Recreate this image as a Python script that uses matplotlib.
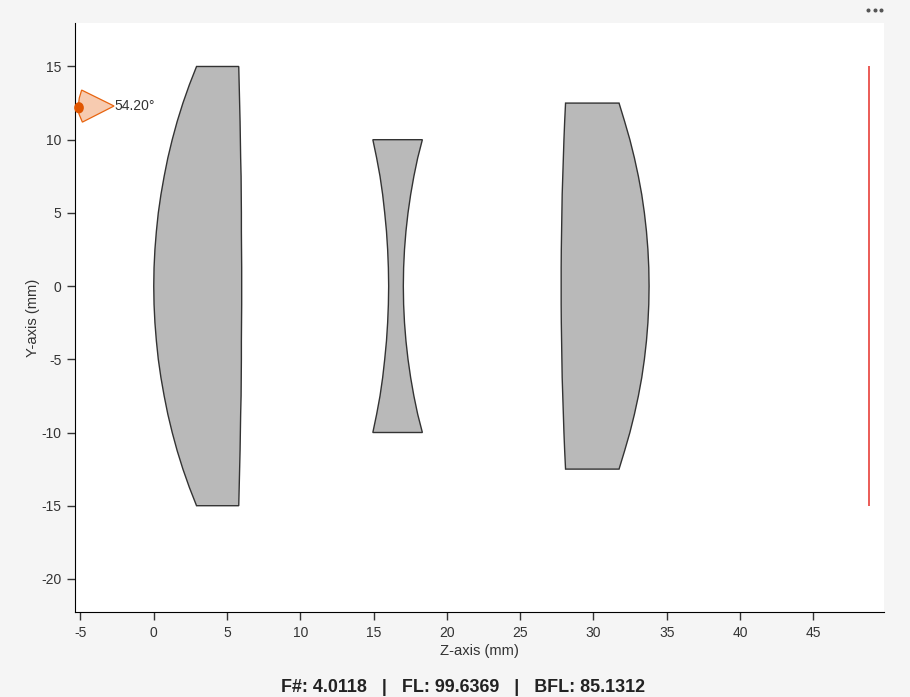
import numpy as np
import matplotlib
matplotlib.use('Agg')
import matplotlib.pyplot as plt
from matplotlib.lines import Line2D
from matplotlib.patches import Ellipse

plt.rcParams['font.family'] = ['Liberation Sans', 'DejaVu Sans']
plt.rcParams['axes.unicode_minus'] = False

# heights and surface positions for upper half of each lens (mm)
lens1_y = [0, 1.25, 2.5, 3.75, 5, 6.25, 7.5, 8.75, 10, 11.25, 12.5, 13.75, 15]
lens1_front = [0, 0.02, 0.08, 0.18, 0.31, 0.49, 0.71, 0.96, 1.26, 1.6, 1.99, 2.43, 2.92]
lens1_back = [6.0, 6.0, 5.99, 5.98, 5.98, 5.97, 5.96, 5.93, 5.91, 5.89, 5.86, 5.83, 5.8]

lens2_y = [0, 1.25, 2.5, 3.75, 5, 6.25, 7.5, 8.75, 10]
lens2_front = [16.03, 16.01, 15.96, 15.88, 15.76, 15.62, 15.44, 15.21, 14.95]
lens2_back = [17.03, 17.05, 17.11, 17.21, 17.35, 17.53, 17.75, 18.01, 18.33]

lens3_y = [0, 1.25, 2.5, 3.75, 5, 6.25, 7.5, 8.75, 10, 11.25, 12.5]
lens3_front = [27.8, 27.8, 27.81, 27.83, 27.85, 27.87, 27.91, 27.95, 27.99, 28.04, 28.1]
lens3_back = [33.8, 33.78, 33.72, 33.62, 33.48, 33.3, 33.07, 32.8, 32.49, 32.13, 31.75]

image_z = 48.8
image_y = [15, -15]

ray_z = [-4.92, -2.71, -4.87, -5.1, -5.15, -5.08]
ray_y = [13.39, 12.3, 11.2, 11.75, 12.3, 12.85]
source_z = -5.1
source_y = 12.18
angle_label = '54.20°'

xticks = [-5, 0, 5, 10, 15, 20, 25, 30, 35, 40, 45]
yticks = [-20, -15, -10, -5, 0, 5, 10, 15]
info = 'F#: 4.0118   |   FL: 99.6369   |   BFL: 85.1312'

W, H = 910, 697
fig = plt.figure(figsize=(W / 100, H / 100), dpi=100, facecolor='#f5f5f5')
ax = fig.add_axes([75.2 / W, 1 - 612.3 / H, (884 - 75.2) / W, (612.3 - 23) / H])
ax.set_xlim(-5.36, 49.83)
ax.set_ylim(-22.28, 17.97)


def draw_lens(y, front, back):
    y = np.array(y)
    front = np.array(front)
    back = np.array(back)
    # mirror the upper half about the axis
    ys = np.r_[y[::-1], -y[1:], -y[::-1], y[1:]]
    zs = np.r_[front[::-1], front[1:], back[::-1], back[1:]]
    ax.fill(zs, ys, facecolor='#b9b9b9', edgecolor='#333333', lw=1)


draw_lens(lens1_y, lens1_front, lens1_back)
draw_lens(lens2_y, lens2_front, lens2_back)
draw_lens(lens3_y, lens3_front, lens3_back)

ax.plot([image_z, image_z], image_y, color='#e8403a', lw=1.2, solid_capstyle='butt')

ax.fill(ray_z, ray_y, facecolor='#f7cbb0', edgecolor='#e8640f', lw=0.9, clip_on=False)
ax.add_patch(Ellipse((source_z, source_y), 0.66, 0.77, facecolor='#e05500', edgecolor='none', clip_on=False, zorder=5))
ax.text(-2.68, 12.3, angle_label, fontsize=10, color='#333333', va='center', ha='left')

ax.spines['top'].set_visible(False)
ax.spines['right'].set_visible(False)
ax.set_xticks(xticks)
ax.set_yticks(yticks)
ax.tick_params(labelsize=10, length=6, width=1, colors='#333333', pad=4)
ax.set_xlabel('Z-axis (mm)', fontsize=10.6, color='#333333')
ax.set_ylabel('Y-axis (mm)', fontsize=10.6, color='#333333')
ax.xaxis.set_label_coords(0.5, -0.0533)
ax.yaxis.set_label_coords(-0.0431, 0.5)

fig.text(463 / W, 1 - 688 / H, info, fontsize=12.9, fontweight='bold', color='#222222', ha='center', va='center')
# menu dots
fig.add_artist(Line2D([868 / W, 874.5 / W, 880.5 / W], [1 - 10 / H] * 3, ls='none', marker='o', ms=1.9, color='#555555'))

fig.savefig('out.png', dpi=100, facecolor=fig.get_facecolor())
